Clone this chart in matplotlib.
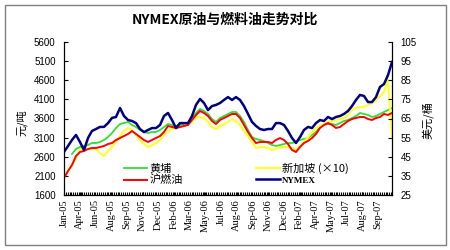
import numpy as np
import matplotlib.pyplot as plt
from matplotlib.ticker import MultipleLocator
from matplotlib.patches import Rectangle

plt.rcParams['font.family'] = ['Noto Sans CJK SC', 'DejaVu Sans']

# trading-day axis: one sample about every 8.6 trading days, a date label every 34 days
TICK_LABELS = ['Jan-05', 'Apr-05', 'Jun-05', 'Aug-05', 'Sep-05', 'Nov-05', 'Dec-05',
               'Feb-06', 'Mar-06', 'May-06', 'Jul-06', 'Aug-06', 'Sep-06', 'Nov-06',
               'Dec-06', 'Feb-07', 'Apr-07', 'May-07', 'Jul-07', 'Aug-07', 'Sep-07']
TICK_EVERY = 34
LAST_DAY = 710

# 黄埔 (yuan/ton), left axis
huangpu = [np.nan, np.nan, 2672, 2803, 2855, 2881, 2907, 2959, 2959, 2986,
           3038, 3116, 3221, 3352, 3456, 3482, 3509, 3430, 3378, 3299,
           3247, 3221, 3247, 3247, 3299, 3378, 3456, 3430, 3404, 3430,
           3456, 3482, 3613, 3744, 3848, 3796, 3718, 3587, 3509, 3613,
           3665, 3718, 3770, 3770, 3665, 3509, 3299, 3116, 3064, 3038,
           3012, 2959, 2907, 2881, 2907, 2933, 2959, 2959, 2986, 3038,
           3064, 3090, 3169, 3247, 3378, 3430, 3456, 3456, 3430, 3482,
           3535, 3561, 3613, 3665, 3744, 3718, 3692, 3639, 3665, 3718,
           3770, 3822, 3875]
# 新加坡 x10, left axis
singapore = [2097, 2227, 2384, 2567, 2776, 2829, 2803, 2803, 2803, 2698,
             2620, 2750, 2855, 2986, 3142, 3273, 3352, 3299, 3169, 3038,
             2933, 2855, 2907, 2959, 3038, 3169, 3273, 3326, 3352, 3378,
             3404, 3456, 3509, 3639, 3639, 3613, 3509, 3378, 3326, 3404,
             3456, 3509, 3587, 3535, 3430, 3273, 3142, 2986, 2829, 2855,
             2855, 2829, 2776, 2803, 2855, 2855, 2855, 2829, 2776, 2881,
             2986, 3116, 3247, 3352, 3404, 3456, 3509, 3535, 3561, 3587,
             3613, 3692, 3822, 3875, 3901, 3901, 3953, 4005, 4084, 4188,
             4293, 4607, 3142]
# 沪燃油, left axis
shanghai = [2044, 2227, 2384, 2620, 2724, 2750, 2803, 2829, 2829, 2855,
            2881, 2933, 2959, 3038, 3090, 3142, 3195, 3273, 3195, 3116,
            3038, 2986, 3038, 3090, 3142, 3247, 3404, 3378, 3352, 3378,
            3404, 3430, 3561, 3692, 3796, 3744, 3665, 3535, 3456, 3561,
            3613, 3665, 3718, 3718, 3613, 3430, 3247, 3090, 2959, 2986,
            2986, 2986, 2959, 3038, 3090, 3038, 2933, 2776, 2724, 2855,
            2959, 3012, 3090, 3195, 3352, 3430, 3482, 3430, 3352, 3378,
            3456, 3535, 3587, 3613, 3639, 3639, 3587, 3561, 3613, 3639,
            3718, 3692, 3744]
# NYMEX crude (USD/bbl), right axis
nymex = [47.5, 50.6, 53.8, 56.4, 52.7, 48.5, 54.8, 58.5, 59.5, 60.6,
         60.6, 62.6, 65.3, 65.8, 70.5, 66.3, 64.2, 63.7, 62.6, 59.5,
         57.9, 59.0, 60.0, 60.0, 61.6, 66.3, 67.9, 64.2, 60.0, 62.6,
         62.6, 62.6, 66.3, 72.1, 75.2, 73.1, 69.4, 71.5, 72.1, 73.1,
         74.7, 76.2, 74.7, 76.2, 74.7, 71.5, 67.4, 63.2, 61.1, 59.5,
         59.0, 59.5, 59.5, 62.6, 62.6, 61.6, 58.5, 54.8, 52.2, 55.3,
         59.0, 60.6, 60.0, 62.6, 64.2, 63.7, 65.8, 64.7, 65.8, 66.3,
         67.4, 68.9, 71.5, 74.7, 77.3, 76.8, 73.6, 73.6, 76.2, 81.5,
         83.0, 87.7, 94.5]

days = np.linspace(0, LAST_DAY, len(nymex))

fig = plt.figure(figsize=(4.5, 2.5), dpi=100)
fig.patch.set_facecolor('white')
fig.patches.append(Rectangle((5 / 450, 5 / 250), 441 / 450, 240 / 250, transform=fig.transFigure,
                             fill=False, edgecolor='#808080', lw=1))

ax = fig.add_axes([64 / 450, 55 / 250, 328 / 450, 153 / 250])
ax.set_facecolor('white')
lg, = ax.plot(days, huangpu, color='#33dd33', lw=1.3)
ly, = ax.plot(days, singapore, color='#ffff33', lw=1.6)
lr, = ax.plot(days, shanghai, color='#ff0000', lw=1.4)
ax.set_xlim(0, LAST_DAY)
ax.set_ylim(1600, 5600)
ax.set_yticks(np.arange(1600, 5601, 500))
ax.set_xticks(np.arange(len(TICK_LABELS)) * TICK_EVERY)
ax.set_xticklabels(TICK_LABELS, rotation=90, family='Liberation Serif', fontsize=7.5)
ax.xaxis.set_minor_locator(MultipleLocator(4))
ax.tick_params(axis='x', which='both', direction='in', length=2.5, width=0.8, pad=3)
ax.tick_params(axis='y', direction='in', length=3, labelsize=7, pad=6)
for lab in ax.get_yticklabels():
    lab.set_family('Liberation Sans')
ax.spines['top'].set_visible(False)

ax2 = ax.twinx()
lb, = ax2.plot(days, nymex, color='#000080', lw=1.8)
ax2.set_ylim(25, 105)
ax2.set_yticks(np.arange(25, 106, 10))
ax2.tick_params(axis='y', direction='in', length=3, labelsize=7, pad=6)
for lab in ax2.get_yticklabels():
    lab.set_family('Liberation Sans')
ax2.spines['top'].set_visible(False)

leg = ax2.legend([lg, lr, ly, lb], ['黄埔', '沪燃油', '新加坡 (×10)', 'NYMEX'], ncol=2,
                 loc='upper left', bbox_to_anchor=(124 / 450, 1 - 163 / 250),
                 bbox_transform=fig.transFigure, frameon=False, fontsize=8,
                 handlelength=2.1, handletextpad=0.2, columnspacing=6.6,
                 labelspacing=0.05, borderpad=0, borderaxespad=0)
nym = leg.get_texts()[3]
nym.set_family('Liberation Serif')
nym.set_fontweight('bold')
nym.set_fontsize(6.5)

fig.text(0.5, 1 - 20 / 250, 'NYMEX原油与燃料油走势对比', ha='center', va='center',
         fontsize=10, fontweight='bold')
fig.text(22 / 450, 1 - 123 / 250, '元/吨', rotation=90, ha='center', va='center', fontsize=8)
fig.text(428 / 450, 1 - 120 / 250, '美元/桶', rotation=90, ha='center', va='center', fontsize=8)

fig.savefig('out.png', dpi=100, facecolor=fig.get_facecolor())
